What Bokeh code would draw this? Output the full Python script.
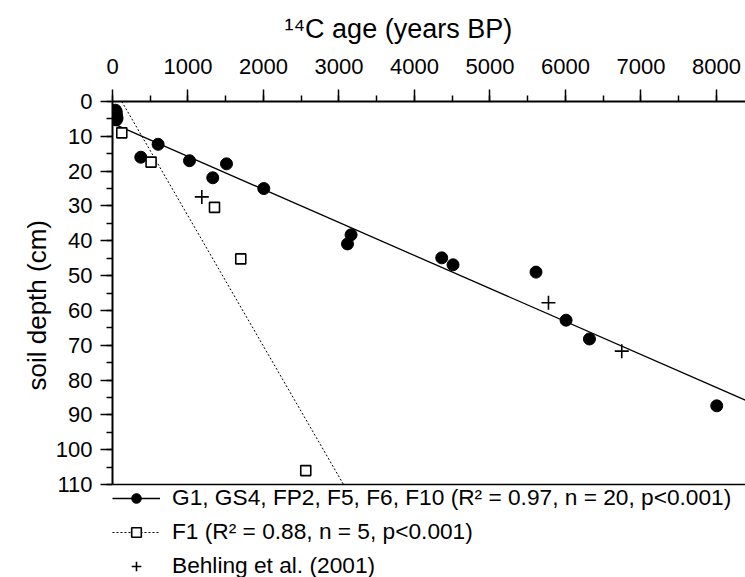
from bokeh.plotting import figure
from bokeh.models import (Range1d, SingleIntervalTicker, Legend, LegendItem, Span, Title)
from bokeh.embed import file_html
from bokeh.resources import INLINE
import numpy as np

# ---- data ----
g_age = [40, 50, 45, 55, 60, 50, 375, 604, 1020, 1328, 1510, 2004, 3113, 3160,
         4361, 4511, 5610, 6008, 6318, 8004]
g_depth = [2.5, 3.0, 3.6, 4.2, 4.8, 5.3, 16.0, 12.3, 17.0, 21.9, 17.9, 25.0, 40.9, 38.3,
           44.9, 46.9, 49.0, 62.8, 68.2, 87.4]

f1_age = [123, 511, 1351, 1699, 2560]
f1_depth = [9.0, 17.4, 30.4, 45.2, 106.0]

behling_age = [1183, 5775, 6746]
behling_depth = [27.4, 57.8, 71.7]

# regression lines (depth = intercept + slope * age)
g_fit = {"intercept": 6.3, "slope": 0.00948}
f1_fit = {"intercept": -4.6, "slope": 0.03745}

labels = ["G1, GS4, FP2, F5, F6, F10 (R\u00b2 = 0.97, n = 20, p<0.001)",
          "F1 (R\u00b2 = 0.88, n = 5, p<0.001)",
          "Behling et al. (2001)"]

x_max = 8385
y_max = 110          # bottom of the axis
y_view = 136.7       # frame continues below the axis to hold the legend

FONT = "Liberation Sans"

p = figure(width=745, height=577, output_backend="svg", toolbar_location=None,
           x_range=Range1d(0, x_max), y_range=Range1d(y_view, 0),
           x_axis_location="above",
           min_border_left=112, min_border_right=0, min_border_top=101,
           min_border_bottom=0)
p.grid.visible = False
p.outline_line_color = None
p.background_fill_color = "white"
p.border_fill_color = "white"

# fit lines
gx = np.array([0, x_max])
gy = g_fit["intercept"] + g_fit["slope"] * gx
r_gline = p.line(gx, gy, line_color="black", line_width=1.3)

fx = np.array([(0 - f1_fit["intercept"]) / f1_fit["slope"],
               (y_max - f1_fit["intercept"]) / f1_fit["slope"]])
fy = f1_fit["intercept"] + f1_fit["slope"] * fx
r_fline = p.line(fx, fy, line_color="black", line_width=1, line_dash="2 2")

r_g = p.scatter(g_age, g_depth, marker="circle", size=12, fill_color="black",
                line_color="black")
r_f = p.scatter(f1_age, f1_depth, marker="square", size=10, fill_color="white",
                line_color="black", line_width=1.6)
r_b = p.scatter(behling_age, behling_depth, marker="cross", size=14,
                line_color="black", line_width=1.6)

# bottom frame line
p.add_layout(Span(location=y_max, dimension="width", line_color="black", line_width=1.5))

# axes
xa = p.xaxis[0]
xa.ticker = SingleIntervalTicker(interval=1000, num_minor_ticks=2)
ya = p.yaxis[0]
ya.ticker = SingleIntervalTicker(interval=10, num_minor_ticks=2)
ya.bounds = (0, y_max)
for ax in (xa, ya):
    ax.axis_line_color = "black"
    ax.axis_line_width = 2
    ax.major_tick_line_color = "black"
    ax.minor_tick_line_color = "black"
    ax.major_tick_line_width = 1.5
    ax.minor_tick_line_width = 1.5
    ax.major_tick_in = 0
    ax.minor_tick_in = 0
    ax.major_tick_out = 12
    ax.minor_tick_out = 6
    ax.major_label_text_font = FONT
    ax.major_label_text_font_size = "22px"
    ax.major_label_text_color = "black"
xa.major_label_standoff = 16
ya.major_label_standoff = 8

title = Title(text="\u00b9\u2074C age (years BP)", align="left", offset=172,
              text_font=FONT, text_font_size="27px", text_font_style="normal",
              text_color="black", standoff=23)
p.add_layout(title, "above")

ylab = Title(text="soil depth (cm)", align="left", offset=187,
             text_font=FONT, text_font_size="26px", text_font_style="normal",
             text_color="black", standoff=2)
p.add_layout(ylab, "left")

legend = Legend(items=[LegendItem(label=labels[0], renderers=[r_gline, r_g]),
                       LegendItem(label=labels[1], renderers=[r_fline, r_f]),
                       LegendItem(label=labels[2], renderers=[r_b])],
                location=(0, -2), orientation="vertical",
                glyph_width=48, glyph_height=24, label_height=24, spacing=7,
                label_standoff=12, padding=0, margin=0,
                border_line_color=None, background_fill_alpha=0,
                label_text_font=FONT, label_text_font_size="22.7px",
                label_text_color="black")
p.add_layout(legend, "center")

open("out.html", "w").write(file_html(p, INLINE))
